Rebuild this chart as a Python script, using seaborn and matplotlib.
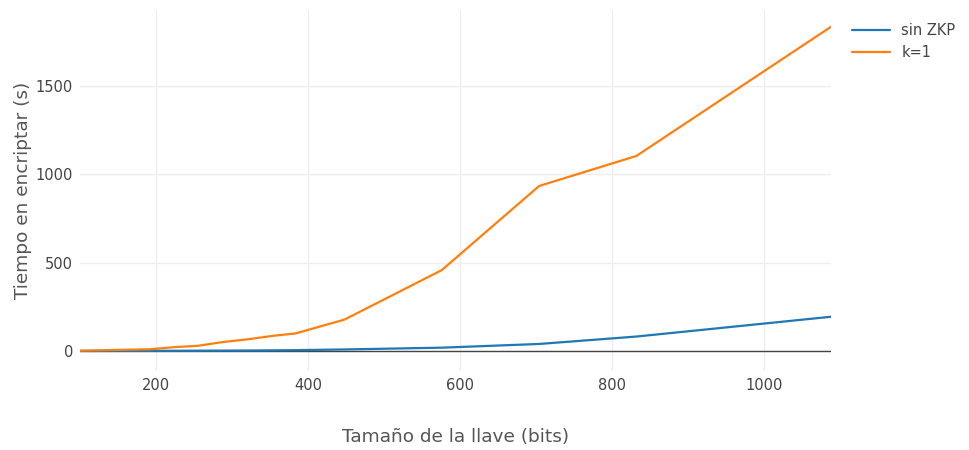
import pandas as pd
import seaborn as sns
import matplotlib.pyplot as plt

# Data
key_bits = [100, 192, 224, 256, 288, 320, 352, 384, 448, 576, 704, 832, 1088]
t_sin_zkp = [0.5, 1, 1.5, 2, 2.5, 3, 4, 5, 9, 19, 40, 82, 194]
t_k1 = [2, 10, 22, 30, 51, 66, 85, 100, 178, 458, 934, 1104, 1835]

series_names = ['sin ZKP', 'k=1']
colors = ['#1f77b4', '#ff7f0e']

df = pd.DataFrame({
    'bits': key_bits * 2,
    'tiempo': t_sin_zkp + t_k1,
    'serie': [series_names[0]] * len(key_bits) + [series_names[1]] * len(key_bits),
})

sns.set_style('white')
plt.rcParams['font.family'] = ['DejaVu Sans']

fig = plt.figure(figsize=(9.69, 4.5), dpi=100)
ax = fig.add_axes([80 / 969, 1 - 371 / 450, 751 / 969, 361 / 450])

sns.lineplot(data=df, x='bits', y='tiempo', hue='serie', palette=colors,
             linewidth=1.6, ax=ax, legend=True)

ax.set_xlim(min(key_bits), max(key_bits))
ax.set_ylim(-113, 1930)
ax.set_xticks([200, 400, 600, 800, 1000])
ax.set_yticks([0, 500, 1000, 1500])
ax.grid(True, color='#eeeeee', linewidth=1)
ax.set_axisbelow(True)
ax.axhline(0, color='#444444', linewidth=1, zorder=1.5)
for s in ax.spines.values():
    s.set_visible(False)
ax.tick_params(axis='both', length=0, labelsize=10.5, colors='#444444', pad=5)

ax.set_xlabel('Tamaño de la llave (bits)', fontsize=13.3, color='#555555', labelpad=25)
ax.set_ylabel('Tiempo en encriptar (s)', fontsize=13.3, color='#555555', labelpad=3)

leg = ax.legend(loc='upper left', bbox_to_anchor=(1.01, 1.0), frameon=False,
                fontsize=10.5, handlelength=2.6, labelspacing=0.5)
for t in leg.get_texts():
    t.set_color('#444444')

fig.savefig('out.png', dpi=100)
